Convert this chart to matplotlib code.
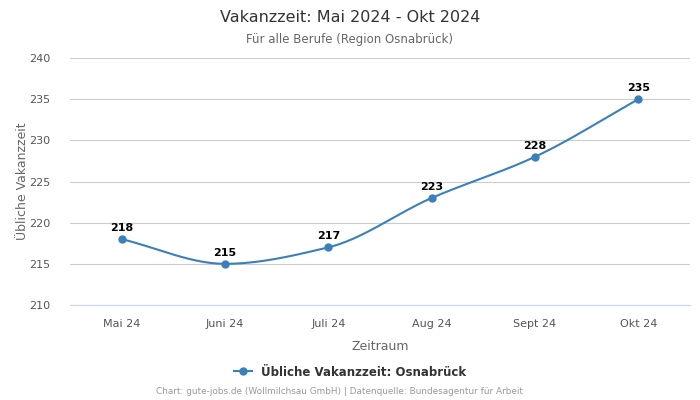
import numpy as np
import matplotlib
matplotlib.use("Agg")
from matplotlib import pyplot as plt
from matplotlib.lines import Line2D

months = ["Mai 24", "Juni 24", "Juli 24", "Aug 24", "Sept 24", "Okt 24"]
values = [218, 215, 217, 223, 228, 235]
y_ticks = [210, 215, 220, 225, 230, 235, 240]

LINE = "#3a80ba"


def monotone_curve(x, y, n=30):
    # Fritsch-Carlson monotone cubic for a smooth line through the points
    x = np.asarray(x, float)
    y = np.asarray(y, float)
    h = np.diff(x)
    d = np.diff(y) / h
    m = np.zeros_like(y)
    m[0], m[-1] = d[0], d[-1]
    for i in range(1, len(y) - 1):
        if d[i - 1] * d[i] <= 0:
            m[i] = 0
        else:
            m[i] = 2 / (1 / d[i - 1] + 1 / d[i])
    xs, ys = [], []
    for i in range(len(h)):
        t = np.linspace(0, 1, n)
        h00 = 2 * t**3 - 3 * t**2 + 1
        h10 = t**3 - 2 * t**2 + t
        h01 = -2 * t**3 + 3 * t**2
        h11 = t**3 - t**2
        xs.append(x[i] + t * h[i])
        ys.append(h00 * y[i] + h10 * h[i] * m[i] + h01 * y[i + 1] + h11 * h[i] * m[i + 1])
    return np.concatenate(xs), np.concatenate(ys)


fig = plt.figure(figsize=(7, 4), dpi=100)
ax = fig.add_axes([0.1, 0.2375, 0.8857, 0.6175])

xpos = np.arange(len(months))
cx, cy = monotone_curve(xpos, values)
ax.plot(cx, cy, color=LINE, lw=1.5, zorder=3)
ax.plot(xpos, values, "o", color=LINE, ms=5, zorder=4)
for x, v in zip(xpos, values):
    ax.annotate(str(v), (x, v), xytext=(0, 4.5), textcoords="offset points",
                ha="center", va="bottom", fontsize=8, fontweight="bold", color="black")

ax.set_xlim(-0.5, len(months) - 0.5)
ax.set_ylim(210, 240)
ax.set_yticks(y_ticks)
ax.set_xticks(xpos)
ax.set_xticklabels(months)
ax.grid(axis="y", color="#cccccc", lw=0.8)
ax.set_axisbelow(True)
for s in ["top", "right", "left"]:
    ax.spines[s].set_visible(False)
ax.spines["bottom"].set_color("#ccd6eb")
ax.tick_params(axis="both", length=0, labelsize=8, labelcolor="#555555")
ax.tick_params(axis="x", pad=10)
ax.tick_params(axis="y", pad=14)
ax.set_xlabel("Zeitraum", fontsize=9, color="#666666", labelpad=8)
ax.set_ylabel("Übliche Vakanzzeit", fontsize=9, color="#666666", labelpad=0)

fig.text(0.5, 1 - 17 / 400, "Vakanzzeit: Mai 2024 - Okt 2024", ha="center", va="center",
         fontsize=11.5, color="#333333")
fig.text(0.5, 1 - 39 / 400, "Für alle Berufe (Region Osnabrück)", ha="center", va="center",
         fontsize=8.5, color="#666666")

handle = Line2D([], [], color=LINE, marker="o", ms=5, lw=1.5)
fig.legend([handle], ["Übliche Vakanzzeit: Osnabrück"], loc="center",
           bbox_to_anchor=(0.5, 1 - 372 / 400), frameon=False, handlelength=1.5,
           prop={"size": 8.5, "weight": "bold"}, labelcolor="#333333")
fig.text(340 / 700, 1 - 392 / 400,
         "Chart: gute-jobs.de (Wollmilchsau GmbH) | Datenquelle: Bundesagentur für Arbeit",
         ha="center", va="center", fontsize=6.4, color="#999999")

fig.savefig("out.png", dpi=100)
